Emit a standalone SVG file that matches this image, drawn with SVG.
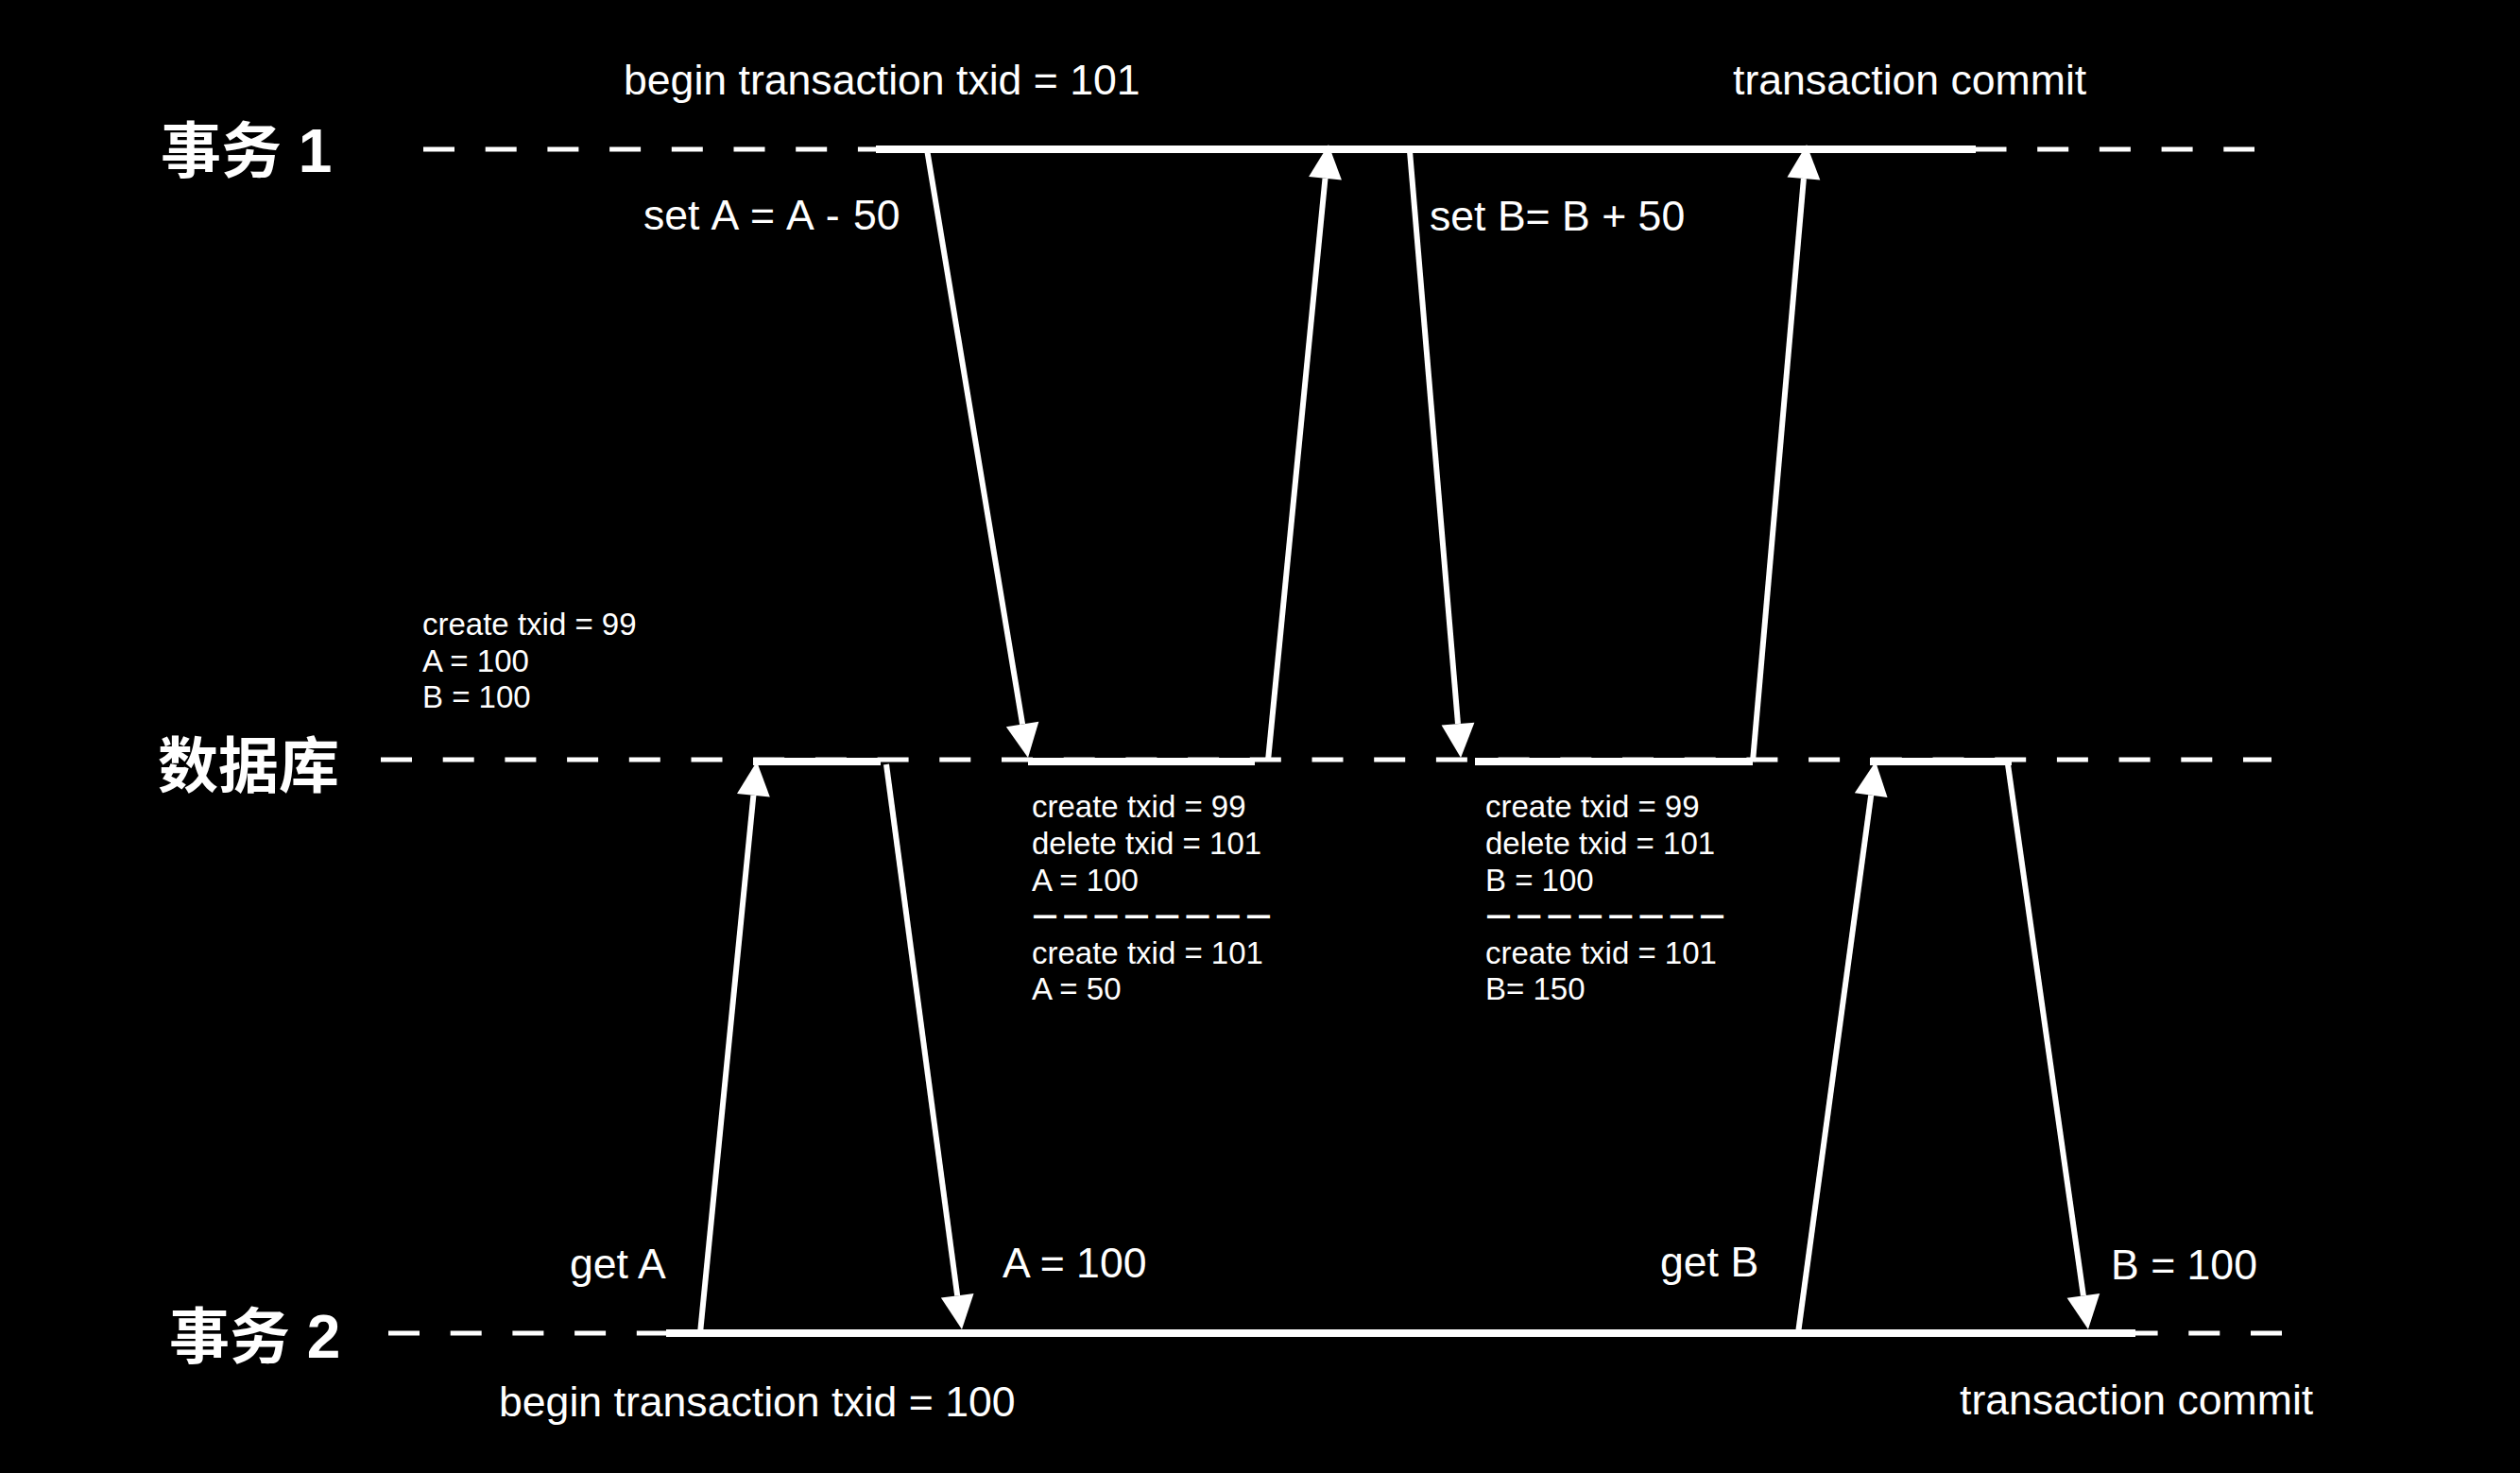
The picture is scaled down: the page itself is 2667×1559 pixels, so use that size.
<svg xmlns="http://www.w3.org/2000/svg" width="2667" height="1559" viewBox="0 0 2667 1559">
<style>
.bg{fill:#000}
.lbl{font-family:"Liberation Sans","Noto Sans CJK SC",sans-serif;font-size:44.6px;fill:#fff}
.sm{font-family:"Liberation Sans","Noto Sans CJK SC",sans-serif;font-size:33px;fill:#fff}
.dsh{font-family:"Liberation Sans",sans-serif;font-size:22px;letter-spacing:10.3px;fill:#fff;stroke:#fff;stroke-width:2}
.lane{font-family:"Liberation Sans","Noto Sans CJK SC",sans-serif;font-size:64px;font-weight:bold;fill:#fff}
.dash{stroke:#fff;stroke-width:5;stroke-dasharray:33 32.7;fill:none}
.solid{stroke:#fff;stroke-width:8;fill:none}
.arr{stroke:#fff;stroke-width:6;fill:none;marker-end:url(#head)}
</style>
<defs>
<marker id="head" markerUnits="userSpaceOnUse" markerWidth="40" markerHeight="40" refX="0" refY="18" orient="auto" overflow="visible">
<path d="M0,0.5 L36,18 L0,35.5 z" fill="#fff"/>
</marker>
</defs>
<rect class="bg" x="0" y="0" width="2667" height="1559"/>

<g id="tx1">
<text class="lane" x="170" y="182">事务 1</text>
<line class="dash" x1="448" y1="158" x2="2386" y2="158"/>
<line class="solid" x1="927" y1="158" x2="2091" y2="158"/>
<text class="lbl" x="660" y="100">begin transaction txid = 101</text>
<text class="lbl" x="1834" y="100">transaction commit</text>
</g>

<g id="db">
<text class="lane" x="167" y="833">数据库</text>
<line class="dash" x1="403" y1="804" x2="2404" y2="804"/>
<line class="solid" x1="797" y1="806" x2="932" y2="806"/>
<line class="solid" x1="1088" y1="806" x2="1328" y2="806"/>
<line class="solid" x1="1561" y1="806" x2="1855" y2="806"/>
<line class="solid" x1="1979" y1="806" x2="2129" y2="806"/>
</g>

<g id="tx2">
<text class="lane" x="179" y="1437">事务 2</text>
<line class="dash" x1="411" y1="1411" x2="2415" y2="1411"/>
<line class="solid" x1="705" y1="1411" x2="2260" y2="1411"/>
<text class="lbl" x="528" y="1499">begin transaction txid = 100</text>
<text class="lbl" x="2074" y="1497">transaction commit</text>
</g>

<g id="state0">
<text class="sm" x="447" y="672">create txid = 99</text>
<text class="sm" x="447" y="711">A = 100</text>
<text class="sm" x="447" y="749">B = 100</text>
</g>

<g id="state1">
<text class="sm" x="1092" y="865">create txid = 99</text>
<text class="sm" x="1092" y="904">delete txid = 101</text>
<text class="sm" x="1092" y="943">A = 100</text>
<text class="dsh" x="1095" y="976">————————</text>
<text class="sm" x="1092" y="1020">create txid = 101</text>
<text class="sm" x="1092" y="1058">A = 50</text>
</g>

<g id="state2">
<text class="sm" x="1572" y="865">create txid = 99</text>
<text class="sm" x="1572" y="904">delete txid = 101</text>
<text class="sm" x="1572" y="943">B = 100</text>
<text class="dsh" x="1575" y="976">————————</text>
<text class="sm" x="1572" y="1020">create txid = 101</text>
<text class="sm" x="1572" y="1058">B= 150</text>
</g>

<g id="connectors">
<path class="arr" d="M981,158 L1082.1,766.5"/>
<path class="arr" d="M1342,805 L1402.5,188.8"/>
<path class="arr" d="M1492,160 L1543,766.1"/>
<path class="arr" d="M1855,806 L1908.9,188.9"/>
<path class="arr" d="M741,1411 L797.4,841.8"/>
<path class="arr" d="M938,809 L1013.2,1371.3"/>
<path class="arr" d="M1903,1411 L1980.2,841.7"/>
<path class="arr" d="M2125,809 L2204.9,1371.4"/>
<text class="lbl" x="681" y="243" word-spacing="2">set A = A - 50</text>
<text class="lbl" x="1513" y="244">set B= B + 50</text>
<text class="lbl" x="603" y="1353">get A</text>
<text class="lbl" x="1061" y="1352">A = 100</text>
<text class="lbl" x="1757" y="1351">get B</text>
<text class="lbl" x="2234" y="1354">B = 100</text>
</g>
</svg>
